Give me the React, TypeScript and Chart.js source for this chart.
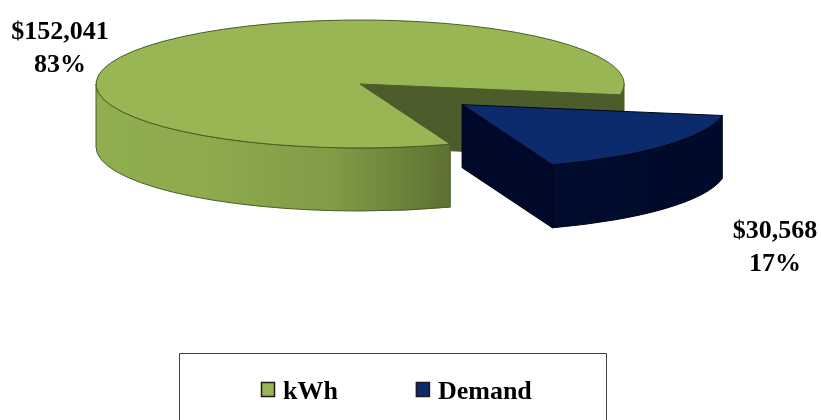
import React, { useEffect, useRef } from "react";
import { Chart, registerables } from "chart.js";

Chart.register(...registerables);

// Cost split by billing component
const categories: string[] = ["kWh", "Demand"];
const costs: number[] = [152041, 30568];

// Slice styling
const topColors = ["#99B655", "#0B2B6D"];
const cutFaceColors = ["#4D5C2B", "#00092A"];
const edgeColors = ["#4A5C27", "#000414"];

// 3D pie geometry (canvas pixels)
const CANVAS_W = 821;
const CANVAS_H = 420;
const PIE_CENTER = { x: 360, y: 84 };
const PIE_RADIUS = 264;
const TILT = 64 / 264;
const DEPTH = 63;
const EXPLODE = [0, 133];
const FIRST_SLICE_START_DEG = 70;

// Text placement
const LABEL_ANCHORS = [
  { x: 60, y: 39 },
  { x: 775, y: 238 },
];
const LINE_GAP = 33;
const FONT = 'bold 26px "Liberation Serif", "Times New Roman", serif';
const LEGEND_BOX = { left: 179.5, top: 353.5, right: 606.5 };
const LEGEND_FIRST_X = 261;
const LEGEND_SWATCH = { w: 14, h: 15, top: 382 };
const LEGEND_BASELINE = 399;
const LEGEND_TEXT_GAP = 22;
const LEGEND_ITEM_GAP = 78;

const total = costs.reduce((a, b) => a + b, 0);
const money = (v: number) => "$" + v.toLocaleString("en-US");
const pct = (v: number) => Math.round((v / total) * 100) + "%";

function wallFill(ctx: CanvasRenderingContext2D, i: number, left: number, right: number) {
  const g = ctx.createLinearGradient(left, 0, right, 0);
  if (i === 0) {
    g.addColorStop(0, "#8FAE4F");
    g.addColorStop(0.2, "#8EAB4D");
    g.addColorStop(0.45, "#809C46");
    g.addColorStop(0.66, "#5E7333");
    g.addColorStop(1, "#4C5D29");
  } else {
    g.addColorStop(0, "#000E33");
    g.addColorStop(0.5, "#000D31");
    g.addColorStop(1, "#000A2A");
  }
  return g;
}

// Screen-space centre of an arc element after the tilt is applied
function screenCenter(arc: any, cy: number) {
  return { sx: arc.x, sy: cy + (arc.y - cy) * TILT };
}

function drawSlab(ctx: CanvasRenderingContext2D, arc: any, i: number, cy: number) {
  const r = arc.outerRadius;
  const ry = r * TILT;
  const { sx, sy } = screenCenter(arc, cy);
  const s = arc.startAngle;
  const e = arc.endAngle;
  ctx.save();
  ctx.lineWidth = 1;
  ctx.lineJoin = "round";
  ctx.strokeStyle = edgeColors[i];

  const face = (a: number) => {
    const px = sx + r * Math.cos(a);
    const py = sy + ry * Math.sin(a);
    ctx.beginPath();
    ctx.moveTo(sx, sy);
    ctx.lineTo(px, py);
    ctx.lineTo(px, py + DEPTH);
    ctx.lineTo(sx, sy + DEPTH);
    ctx.closePath();
    ctx.fillStyle = cutFaceColors[i];
    ctx.fill();
    ctx.stroke();
  };
  // radial cut faces that turn toward the viewer
  if (Math.cos(s) < 0) face(s);
  if (Math.cos(e) > 0) face(e);

  // outer rim, front half only
  const fill = wallFill(ctx, i, sx - r, sx + r);
  for (let n = -1; n <= 2; n++) {
    const lo = Math.max(s, 2 * Math.PI * n);
    const hi = Math.min(e, 2 * Math.PI * n + Math.PI);
    if (hi <= lo) continue;
    ctx.beginPath();
    ctx.ellipse(sx, sy, r, ry, 0, lo, hi);
    ctx.ellipse(sx, sy + DEPTH, r, ry, 0, hi, lo, true);
    ctx.closePath();
    ctx.fillStyle = fill;
    ctx.fill();
    ctx.stroke();
  }
  ctx.restore();
}

const pie3d = {
  id: "pie3d",
  afterDatasetsUpdate(chart: any) {
    const ca = chart.chartArea;
    const cx = (ca.left + ca.right) / 2;
    const cy = (ca.top + ca.bottom) / 2;
    chart.getDatasetMeta(0).data.forEach((arc: any, i: number) => {
      const mid = (arc.startAngle + arc.endAngle) / 2;
      arc.x = cx + Math.cos(mid) * (EXPLODE[i] || 0);
      arc.y = cy + Math.sin(mid) * (EXPLODE[i] || 0);
    });
  },
  beforeDatasetsDraw(chart: any) {
    const ctx: CanvasRenderingContext2D = chart.ctx;
    const ca = chart.chartArea;
    const cx = (ca.left + ca.right) / 2;
    const cy = (ca.top + ca.bottom) / 2;
    chart.getDatasetMeta(0).data.forEach((arc: any, i: number) => drawSlab(ctx, arc, i, cy));
    ctx.save();
    ctx.translate(cx, cy);
    ctx.scale(1, TILT);
    ctx.translate(-cx, -cy);
  },
  afterDatasetsDraw(chart: any) {
    const ctx: CanvasRenderingContext2D = chart.ctx;
    ctx.restore();
    const ca = chart.chartArea;
    const cy = (ca.top + ca.bottom) / 2;
    chart.getDatasetMeta(0).data.forEach((arc: any, i: number) => {
      const r = arc.outerRadius;
      const { sx, sy } = screenCenter(arc, cy);
      ctx.save();
      ctx.lineWidth = 1;
      ctx.lineJoin = "round";
      ctx.strokeStyle = edgeColors[i];
      ctx.beginPath();
      ctx.moveTo(sx, sy);
      ctx.ellipse(sx, sy, r, r * TILT, 0, arc.startAngle, arc.endAngle);
      ctx.closePath();
      ctx.stroke();
      ctx.restore();
    });
  },
  afterDraw(chart: any) {
    const ctx: CanvasRenderingContext2D = chart.ctx;
    ctx.save();
    ctx.font = FONT;
    ctx.fillStyle = "#000000";
    ctx.textBaseline = "alphabetic";

    // value labels
    ctx.textAlign = "center";
    costs.forEach((v, i) => {
      const p = LABEL_ANCHORS[i];
      ctx.fillText(money(v), p.x, p.y);
      ctx.fillText(pct(v), p.x, p.y + LINE_GAP);
    });

    // legend frame
    ctx.lineWidth = 1;
    ctx.strokeStyle = "#404040";
    ctx.beginPath();
    ctx.moveTo(LEGEND_BOX.left, CANVAS_H + 5);
    ctx.lineTo(LEGEND_BOX.left, LEGEND_BOX.top);
    ctx.lineTo(LEGEND_BOX.right, LEGEND_BOX.top);
    ctx.lineTo(LEGEND_BOX.right, CANVAS_H + 5);
    ctx.stroke();

    // legend entries
    ctx.textAlign = "left";
    let x = LEGEND_FIRST_X;
    categories.forEach((name, i) => {
      ctx.fillStyle = topColors[i];
      ctx.fillRect(x, LEGEND_SWATCH.top, LEGEND_SWATCH.w, LEGEND_SWATCH.h);
      ctx.lineWidth = 1.5;
      ctx.strokeStyle = "#1A1A1A";
      ctx.strokeRect(x + 0.5, LEGEND_SWATCH.top + 0.5, LEGEND_SWATCH.w - 1, LEGEND_SWATCH.h - 1);
      ctx.fillStyle = "#000000";
      ctx.fillText(name, x + LEGEND_TEXT_GAP, LEGEND_BASELINE);
      x += LEGEND_TEXT_GAP + ctx.measureText(name).width + LEGEND_ITEM_GAP;
    });
    ctx.restore();
  },
};

export default function App() {
  const canvasRef = useRef<HTMLCanvasElement | null>(null);

  useEffect(() => {
    const canvas = canvasRef.current;
    if (!canvas) return;
    const chart = new Chart(canvas, {
      type: "pie",
      data: {
        labels: categories,
        datasets: [
          {
            data: costs,
            backgroundColor: topColors,
            borderWidth: 0,
            clip: false,
          } as any,
        ],
      },
      options: {
        animation: false,
        responsive: false,
        devicePixelRatio: 1,
        events: [],
        rotation: FIRST_SLICE_START_DEG + 90,
        radius: PIE_RADIUS,
        layout: {
          padding: {
            left: 0,
            top: 0,
            right: CANVAS_W - 2 * PIE_CENTER.x,
            bottom: CANVAS_H - 2 * PIE_CENTER.y,
          },
        },
        plugins: {
          legend: { display: false },
          tooltip: { enabled: false },
        },
      } as any,
      plugins: [pie3d],
    });
    return () => chart.destroy();
  }, []);

  return (
    <div
      style={{
        position: "fixed",
        left: 0,
        top: 0,
        width: CANVAS_W,
        height: CANVAS_H,
        background: "#ffffff",
        overflow: "hidden",
      }}
    >
      <canvas ref={canvasRef} width={CANVAS_W} height={CANVAS_H} style={{ display: "block" }} />
    </div>
  );
}
